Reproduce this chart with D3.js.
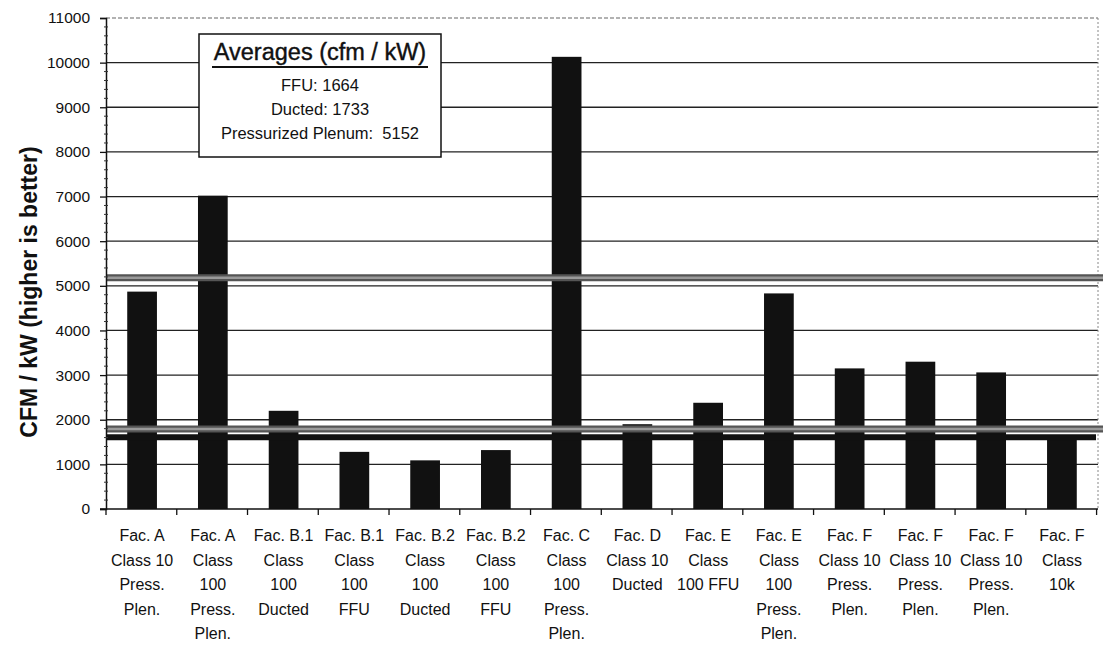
<!DOCTYPE html>
<html><head><meta charset="utf-8">
<script src="https://cdn.jsdelivr.net/npm/d3@7"></script>
<style>
body{margin:0;background:#fff;}
text{font-family:"Liberation Sans",Arial,sans-serif;fill:#111;}
</style></head>
<body><svg id="c" width="1103" height="648"></svg>
<script>
const categories = [
  ["Fac. A","Class 10","Press.","Plen."],
  ["Fac. A","Class","100","Press.","Plen."],
  ["Fac. B.1","Class","100","Ducted"],
  ["Fac. B.1","Class","100","FFU"],
  ["Fac. B.2","Class","100","Ducted"],
  ["Fac. B.2","Class","100","FFU"],
  ["Fac. C","Class","100","Press.","Plen."],
  ["Fac. D","Class 10","Ducted"],
  ["Fac. E","Class","100 FFU"],
  ["Fac. E","Class","100","Press.","Plen."],
  ["Fac. F","Class 10","Press.","Plen."],
  ["Fac. F","Class 10","Press.","Plen."],
  ["Fac. F","Class 10","Press.","Plen."],
  ["Fac. F","Class","10k"]
];
const values = [4870, 7020, 2200, 1280, 1090, 1320, 10130, 1900, 2380, 4830, 3150, 3300, 3060, 1560];
const yTicks = [0,1000,2000,3000,4000,5000,6000,7000,8000,9000,10000,11000];
const avgLabels = ["FFU: 1664", "Ducted: 1733", "Pressurized Plenum:  5152"];
// average lines as drawn in the picture
const avgLines = [
  {name:"Pressurized Plenum", value:5180, kind:"gray"},
  {name:"Ducted", value:1790, kind:"gray"},
  {name:"FFU", value:1608, kind:"black"}
];

const svg = d3.select("#c");
const L=106, R=1098, T=18, B=509;
const x = d3.scaleBand().domain(d3.range(categories.length)).range([L,R]).paddingInner(0.58).paddingOuter(0.3);
const y = d3.scaleLinear().domain([0,11000]).range([B,T]);

// gridlines
svg.append("g").selectAll("line").data(yTicks.filter(d=>d>0 && d<11000)).join("line")
  .attr("x1",L).attr("x2",R).attr("y1",d=>y(d)).attr("y2",d=>y(d))
  .attr("stroke","#222").attr("stroke-width",1.3);
// top border dashed
svg.append("line").attr("x1",L).attr("x2",R).attr("y1",y(11000)).attr("y2",y(11000))
  .attr("stroke","#666").attr("stroke-width",1.2).attr("stroke-dasharray","4,2");
// right border dotted
svg.append("line").attr("x1",R).attr("x2",R).attr("y1",T).attr("y2",B)
  .attr("stroke","#888").attr("stroke-width",1).attr("stroke-dasharray","2,2");

// bars
svg.append("g").selectAll("rect").data(values).join("rect")
  .attr("x",(d,i)=>x(i)).attr("width",x.bandwidth())
  .attr("y",d=>y(d)).attr("height",d=>B-y(d)).attr("fill","#111");

// average lines
avgLines.forEach(a=>{
  if(a.kind==="gray"){
    svg.append("line").attr("x1",L).attr("x2",1103).attr("y1",y(a.value)).attr("y2",y(a.value))
      .attr("stroke","#555").attr("stroke-width",7);
    svg.append("line").attr("x1",L).attr("x2",1103).attr("y1",y(a.value)).attr("y2",y(a.value))
      .attr("stroke","#9a9a9a").attr("stroke-width",2.5);
  } else {
    svg.append("line").attr("x1",L).attr("x2",1096).attr("y1",y(a.value)).attr("y2",y(a.value))
      .attr("stroke","#111").attr("stroke-width",6);
  }
});

// y axis
const yAxis = d3.axisLeft(y).tickValues(yTicks).tickSize(6).tickPadding(10).tickFormat(d3.format("d"));
const gy = svg.append("g").attr("transform",`translate(${L},0)`).call(yAxis);
gy.select(".domain").attr("stroke","#111").attr("stroke-width",1.5);
gy.selectAll(".tick line").attr("stroke","#111").attr("stroke-width",1.3);
gy.selectAll(".tick text").attr("font-size",15.5).attr("fill","#111")
  .style("font-family","'Liberation Sans',Arial,sans-serif");
// minor ticks
svg.append("g").selectAll("line").data(d3.range(0,11001,200).filter(d=>d%1000!==0)).join("line")
  .attr("x1",L-2).attr("x2",L+2).attr("y1",d=>y(d)).attr("y2",d=>y(d))
  .attr("stroke","#333").attr("stroke-width",1);

// x axis
svg.append("line").attr("x1",L-6).attr("x2",R).attr("y1",B).attr("y2",B).attr("stroke","#111").attr("stroke-width",1.5);
const bounds = d3.range(categories.length+1).map(i=>L+i*x.step());
svg.append("g").selectAll("line").data(bounds).join("line")
  .attr("x1",d=>d).attr("x2",d=>d).attr("y1",B).attr("y2",B+6)
  .attr("stroke","#111").attr("stroke-width",1.3);

// x labels
const xl = svg.append("g").selectAll("text").data(categories).join("text")
  .attr("x",(d,i)=>x(i)+x.bandwidth()/2).attr("y",541)
  .attr("text-anchor","middle").attr("font-size",16);
xl.each(function(d){
  const t=d3.select(this);
  d.forEach((s,j)=>t.append("tspan").attr("x",t.attr("x")).attr("dy",j===0?0:24.5).text(s));
});

// y title
svg.append("text").attr("transform","translate(37,292) rotate(-90)")
  .attr("text-anchor","middle").attr("font-size",23).attr("font-weight","bold")
  .text("CFM / kW (higher is better)");

// legend box
const lg = svg.append("g");
lg.append("rect").attr("x",199).attr("y",34).attr("width",242).attr("height",123)
  .attr("fill","#fff").attr("stroke","#111").attr("stroke-width",1.5);
lg.append("text").attr("x",320).attr("y",60).attr("text-anchor","middle").attr("font-size",23.5)
  .attr("stroke","#111").attr("stroke-width",0.4)
  .text("Averages (cfm / kW)");
lg.append("line").attr("x1",212).attr("x2",428).attr("y1",67).attr("y2",67).attr("stroke","#111").attr("stroke-width",2.2);
lg.selectAll("text.row").data(avgLabels).join("text").attr("class","row")
  .attr("x",320).attr("y",(d,i)=>91+i*24).attr("text-anchor","middle").attr("font-size",16.5)
  .attr("xml:space","preserve").text(d=>d);
</script></body></html>
